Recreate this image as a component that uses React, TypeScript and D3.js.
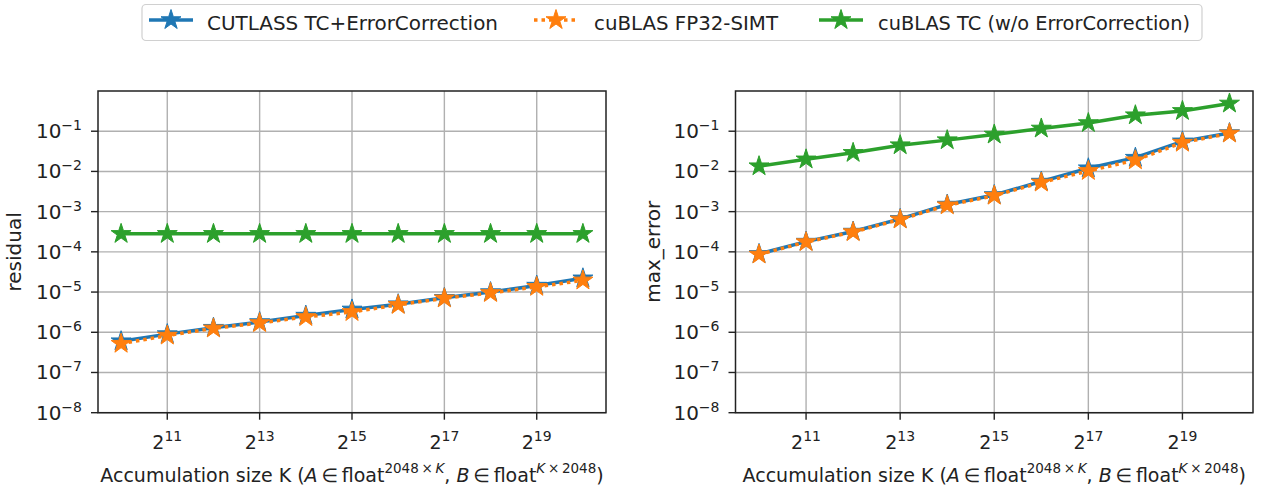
import React from "react";
import * as d3 from "d3";

// accumulation sizes K = 2^10 .. 2^20
const K = [1024, 2048, 4096, 8192, 16384, 32768, 65536, 131072, 262144, 524288, 1048576];

const residualCutlass = [6.0e-7, 9.0e-7, 1.3e-6, 1.8e-6, 2.6e-6, 3.7e-6, 5.0e-6, 7.2e-6, 1.0e-5, 1.45e-5, 2.2e-5];
const residualSimt = [5.2e-7, 8.3e-7, 1.25e-6, 1.7e-6, 2.4e-6, 3.2e-6, 4.8e-6, 7.0e-6, 9.5e-6, 1.35e-5, 1.95e-5];
const residualTC = [2.8e-4, 2.8e-4, 2.8e-4, 2.8e-4, 2.8e-4, 2.8e-4, 2.8e-4, 2.8e-4, 2.8e-4, 2.8e-4, 2.8e-4];

const maxErrCutlass = [8.9e-5, 1.8e-4, 3.2e-4, 6.6e-4, 1.5e-3, 2.6e-3, 5.6e-3, 1.2e-2, 2.2e-2, 5.6e-2, 9.0e-2];
const maxErrSimt = [8.6e-5, 1.75e-4, 3.1e-4, 6.4e-4, 1.44e-3, 2.5e-3, 5.3e-3, 1.03e-2, 1.9e-2, 5.2e-2, 8.8e-2];
const maxErrTC = [1.35e-2, 2.0e-2, 2.9e-2, 4.5e-2, 6.0e-2, 8.3e-2, 0.117, 0.16, 0.25, 0.32, 0.49];

const seriesNames = ["CUTLASS TC+ErrorCorrection", "cuBLAS FP32-SIMT", "cuBLAS TC (w/o ErrorCorrection)"];
const colors = ["#1f77b4", "#ff7f0e", "#2ca02c"];

const xTicks = [2048, 8192, 32768, 131072, 524288];
const xTickExp = ["11", "13", "15", "17", "19"];
const yTicks = [1e-1, 1e-2, 1e-3, 1e-4, 1e-5, 1e-6, 1e-7, 1e-8];
const yTickExp = ["\u22121", "\u22122", "\u22123", "\u22124", "\u22125", "\u22126", "\u22127", "\u22128"];

const FONT = "DejaVu Sans";
const TOP = 91;
const BOTTOM = 412.7;
const star = d3.symbol(d3.symbolStar, 10.5 * 10.5 / 0.8908);

const XLabel = ({ cx }: { cx: number }) => (
  <text x={cx} y={482} fontSize={19} textAnchor="middle" fill="#222" fontFamily={FONT}>
    Accumulation size K (<tspan fontStyle="italic">A</tspan>
    <tspan>{"\u2009\u2208\u2009float"}</tspan>
    <tspan dy={-9} fontSize={13.5}>{"2048\u2009\u00d7\u2009"}</tspan>
    <tspan fontSize={13.5} fontStyle="italic">K</tspan>
    <tspan dy={9}>{", "}</tspan>
    <tspan fontStyle="italic">B</tspan>
    <tspan>{"\u2009\u2208\u2009float"}</tspan>
    <tspan dy={-9} fontSize={13.5} fontStyle="italic">K</tspan>
    <tspan fontSize={13.5}>{"\u2009\u00d7\u20092048"}</tspan>
    <tspan dy={9}>)</tspan>
  </text>
);

function Panel({ left, right, ylabel, ylabelX, data }: { left: number; right: number; ylabel: string; ylabelX: number; data: number[][] }) {
  const x = d3.scaleLog().base(2).domain([Math.pow(2, 9.5), Math.pow(2, 20.5)]).range([left, right]);
  const y = d3.scaleLog().domain([1e-8, 1]).range([BOTTOM, TOP]);
  const line = d3.line<number>().x((_, i) => x(K[i])).y(d => y(d));
  return (
    <g>
      {xTicks.map(t => (
        <line key={"gx" + t} x1={x(t)} x2={x(t)} y1={TOP} y2={BOTTOM} stroke="#b0b0b0" strokeWidth={1.4} />
      ))}
      {yTicks.map(t => (
        <line key={"gy" + t} x1={left} x2={right} y1={y(t)} y2={y(t)} stroke="#b0b0b0" strokeWidth={1.4} />
      ))}
      {data.map((vals, s) => (
        <g key={s}>
          <path d={line(vals) || ""} fill="none" stroke={colors[s]} strokeWidth={3.5}
            strokeDasharray={s === 1 ? "3.5 4" : undefined} />
          {vals.map((v, i) => (
            <path key={i} d={star() || ""} transform={`translate(${x(K[i])},${y(v)})`} fill={colors[s]} stroke={colors[s]} strokeWidth={1} />
          ))}
        </g>
      ))}
      <rect x={left} y={TOP} width={right - left} height={BOTTOM - TOP} fill="none" stroke="#222" strokeWidth={1.5} />
      {xTicks.map((t, i) => (
        <g key={"tx" + t}>
          <line x1={x(t)} x2={x(t)} y1={BOTTOM} y2={BOTTOM + 7} stroke="#222" strokeWidth={1.4} />
          <text x={x(t)} y={449} fontSize={19} textAnchor="middle" fill="#222" fontFamily={FONT}>
            2<tspan dy={-8} fontSize={14}>{xTickExp[i]}</tspan>
          </text>
        </g>
      ))}
      {yTicks.map((t, i) => (
        <g key={"ty" + t}>
          <line x1={left - 7} x2={left} y1={y(t)} y2={y(t)} stroke="#222" strokeWidth={1.4} />
          <text x={left - 16} y={y(t) + 7} fontSize={20} textAnchor="end" fill="#222" fontFamily={FONT}>
            10<tspan dy={-8} fontSize={14}>{yTickExp[i]}</tspan>
          </text>
        </g>
      ))}
      <text transform={`translate(${ylabelX},${(TOP + BOTTOM) / 2}) rotate(-90)`} fontSize={20} textAnchor="middle" fill="#222" fontFamily={FONT}>
        {ylabel}
      </text>
      <XLabel cx={(left + right) / 2} />
    </g>
  );
}

const legendItems = [
  { hx: 149, tx: 207, tw: 291 },
  { hx: 534, tx: 594, tw: 184 },
  { hx: 819, tx: 878, tw: 312 },
];

export default function App() {
  return (
    <svg width={1269} height={488} style={{ position: "absolute", left: 0, top: 0, background: "#fff" }}>
      <Panel left={98} right={606} ylabel="residual" ylabelX={21} data={[residualCutlass, residualSimt, residualTC]} />
      <Panel left={735.5} right={1253} ylabel="max_error" ylabelX={660} data={[maxErrCutlass, maxErrSimt, maxErrTC]} />
      <rect x={142} y={4.5} width={1060} height={36} rx={4} fill="#fff" stroke="#d0d0d0" strokeWidth={1.2} />
      {legendItems.map((it, s) => (
        <g key={s}>
          <line x1={it.hx} x2={it.hx + 44} y1={20} y2={20} stroke={colors[s]} strokeWidth={3.5}
            strokeDasharray={s === 1 ? "3.5 4" : undefined} />
          <path d={star() || ""} transform={`translate(${it.hx + 22},20)`} fill={colors[s]} stroke={colors[s]} strokeWidth={1} />
          <text x={it.tx} y={30} fontSize={20} fill="#222" fontFamily={FONT} textLength={it.tw} lengthAdjust="spacingAndGlyphs">
            {seriesNames[s]}
          </text>
        </g>
      ))}
    </svg>
  );
}
